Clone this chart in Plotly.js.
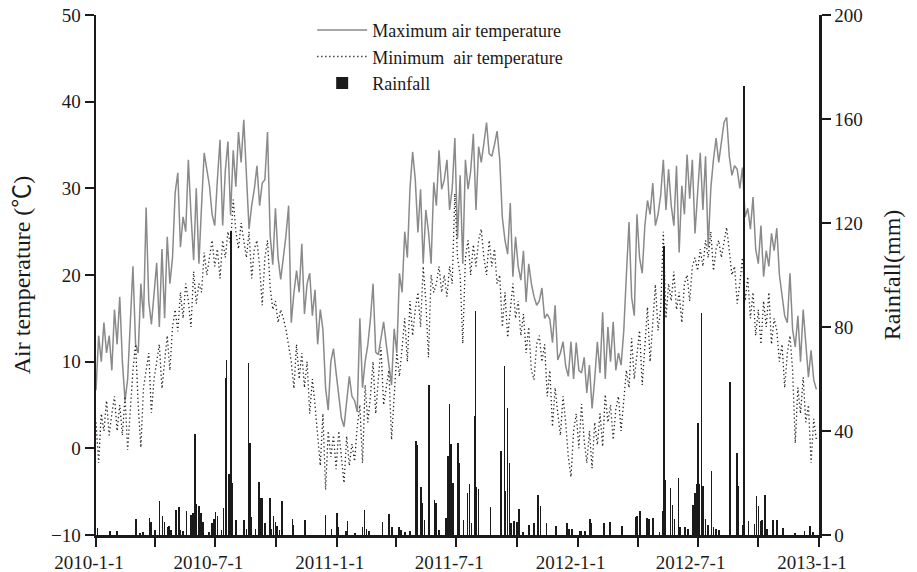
<!DOCTYPE html>
<html>
<head>
<meta charset="utf-8">
<script src="https://cdn.plot.ly/plotly-3.0.1.min.js"></script>
<style>
html,body{margin:0;padding:0;background:#fff;}
#chart{width:917px;height:572px;}
</style>
</head>
<body>
<div id="chart"></div>
<script>
// ---- data ----
const startDate = '2010-01-01';
const stepDays = 4; // one temperature sample every 4 days

const maxTemp = [
  6.7, 13, 10, 14.5, 11, 13, 9, 16, 12, 17.5,
  10, 5.5, 8, 14, 21, 12, 11, 19, 15, 27.8,
  17, 14.3, 18, 21.4, 14, 23, 15, 24.4, 19, 22,
  29.5, 31.8, 23.2, 26.7, 25, 33.3, 27, 21.7, 30, 21.3,
  28, 34.1, 32.2, 30.3, 27, 25.7, 31, 35.6, 25.7, 32,
  35.4, 26.9, 34.4, 30.2, 36.5, 33, 37.9, 32.2, 25.3, 28,
  29.9, 32.6, 28, 30.6, 31, 36.5, 24.6, 21.2, 27.7, 22,
  19.5, 22, 24.6, 28, 14.5, 17.9, 20.5, 18, 23.6, 15.5,
  19, 20.2, 15.3, 18.3, 12, 16, 13.7, 7, 4.4, 10,
  11.5, 8.7, 6, 3.5, 2.5, 5.5, 8.3, 6, 5.5, 4.2,
  15, 7, 10, 11.9, 14.9, 19, 11.1, 10.8, 13, 14.6,
  12, 9.6, 7.3, 13.8, 11, 20.2, 18, 25, 22, 30,
  34.2, 31, 24.9, 29.9, 21.3, 27.5, 25, 21.3, 30.7, 28,
  34.4, 29.9, 31, 33.3, 27.5, 30, 35.8, 24.2, 31.5, 21.3,
  33.3, 29.9, 32, 36.3, 27.5, 34.8, 33, 35.2, 37.6, 34,
  33.7, 35, 36.6, 33.3, 26.6, 24, 22.4, 28.3, 19.8, 24.4,
  21, 19.4, 22.8, 16.9, 21.3, 19, 17.5, 16.5, 17, 18.5,
  15, 15.5, 14.9, 12.2, 16.5, 10.2, 11, 12.3, 9.5, 8.3,
  12.3, 8, 12.2, 9, 8.7, 10.5, 6.4, 9.6, 4.6, 8,
  12.3, 8.7, 15.7, 8, 14, 10, 14.6, 9, 11, 9.6,
  13.5, 20, 26.1, 17.4, 15.3, 27, 22, 20.2, 25.7, 28.6,
  27, 30.6, 25.7, 27, 29.2, 33.3, 27.5, 32.2, 28, 25.7,
  32.6, 22.6, 30.3, 27, 33.9, 28.8, 33.3, 24.8, 30, 34.1,
  27.5, 33.7, 23.2, 30, 33.3, 35.8, 33, 35.2, 37.6, 38.2,
  33.7, 31.5, 32.6, 32.2, 30, 32.4, 26.7, 27.7, 25.3, 29,
  23, 21.3, 25.7, 19.8, 22.8, 21, 24.8, 22.8, 25.4, 20,
  17.4, 15.3, 14.5, 20.2, 13.7, 11.7, 15.3, 10, 16, 11.5,
  8.2, 11.3, 7.9, 6.8
];

const minTemp = [
  3, -1.7, 4, 2, 5.5, 1.5, 4, 6, 2, 5,
  1.5, 6, -0.2, 4, 9, 12, 5, 0.1, 7, 9,
  11, 4.1, 8, 10, 12, 6.9, 10, 13, 9, 14,
  16, 13.5, 18, 15, 19, 17, 14, 20.4, 16.7, 19,
  18, 22.6, 20, 22, 24, 21, 23, 19.6, 24, 22,
  25, 23.5, 28.7, 25, 23, 26, 24, 22, 25, 19.6,
  23, 24, 21, 16.5, 22, 24, 18.6, 16, 17, 14.5,
  16, 15, 13.7, 12, 10, 6.9, 12, 8, 11, 7,
  10, 4, 8, 5, 1, -2, 4, -4.8, 2, -1,
  1.5, -2.4, 2, -1, -4, 1.4, -2, 0.5, -1.5, 2.5,
  5, -1.7, 7.3, 3, 6, 10, 4, 8, 11.7, 5,
  7, 9, 1, 6, 11, 8.3, 12, 15, 10, 17,
  13, 16, 18, 14, 21, 17, 10.5, 20, 18, 19,
  21, 18, 20, 17.5, 21, 19, 29.4, 22, 20, 12.1,
  22, 24, 20, 23.5, 21, 24, 25.3, 22, 20, 24,
  21, 23, 19, 20, 14, 18, 12.8, 16, 19, 15,
  17, 13, 15.5, 11, 14, 9, 7.9, 12, 13, 10,
  12, 6, 9, 2.5, 7, 4, 1.5, 6, 3, -1,
  -3.3, 2, 4, 0, 5.1, 1, -1.7, 2, -2.3, 3,
  0.4, 4, 0.2, 6.2, 3, 5, 1, 4.5, 6, 2,
  5.1, 9, 7, 12.7, 8, 11, 13.6, 7.3, 12, 16.3,
  10, 14, 18.9, 13.6, 16, 25, 15, 19, 17, 20.4,
  16, 18, 14.5, 19, 20, 17, 21, 22, 20.5, 23,
  21, 24, 22, 25, 20.5, 23, 24, 22, 24, 25.5,
  22.8, 20, 21, 16.7, 19, 22, 17, 19.8, 15, 18,
  13, 16, 12, 17, 14, 18, 12, 15, 13.6, 10,
  12, 7, 11, 13, 9, 0.6, 7, 4, 8.2, 3,
  5, -1.7, 3.4, 1
];

// rainfall events: day number counted from 2010-01-01, and amount (mm)
const rainDay = [2,21,32,61,67,71,81,83,89,96,101,104,109,111,114,121,126,128,132,137,144,147,150,152,156,159,162,171,176,179,181,184,190,193,196,198,202,205,207,212,224,228,231,233,236,242,247,250,252,256,264,266,269,272,274,278,282,298,299,317,348,357,365,367,379,381,393,404,407,410,414,434,444,449,459,462,468,476,485,487,493,495,498,505,513,515,520,531,534,536,538,541,549,551,557,563,566,569,574,575,577,580,598,614,619,621,624,627,629,634,638,641,647,656,664,670,674,683,697,714,717,722,733,735,741,749,751,770,779,797,818,820,825,835,838,844,854,859,861,863,871,874,877,883,885,893,897,905,908,910,913,915,918,920,924,928,933,936,940,944,961,972,974,980,982,989,998,1001,1004,1007,1010,1014,1017,1026,1032,1041,1060,1074,1082,1087];
const rainMm = [2.7,1.7,1.5,6,0.8,1,6.7,5,2,13.2,7.3,5,3,3.5,2,9.6,10.8,2,1.5,9.2,7.7,8.6,38.7,11.9,11.2,8.3,5,1.2,4.6,6,8.8,7.3,2,10.5,60.4,67.3,23.5,117,20,5.8,5.8,2.5,66,35.5,7,2.5,20.5,14.2,14.2,4.7,14.1,2.5,7.4,4.9,3.5,2,13,6.3,4,5.9,7.7,2.5,8.3,3,1.5,5.5,0.8,3,9.6,2.5,1.5,4.9,8.1,3,3,2,1,1.5,36.3,34.6,18.6,12.5,5.8,57.7,13.5,12.5,2,6.4,30.5,50.3,34.9,20.1,35.3,27.6,5.7,16,19.5,4.5,45.9,86,18.6,17.6,10.6,32.4,65,17,49,27.6,4.7,5.5,5,10,1.2,3.7,4.7,15.4,11,4.5,3.6,4.5,2.5,2.5,1.5,1.5,1.5,6.1,4.7,4.5,5,3.6,7,7.4,9.1,6.7,6.3,6.5,1.2,9.2,111,21,18,11.5,6,22,3,3,2.5,11.4,16,19.8,43,19.5,85.5,19,6,3.8,24.6,3,2.5,2,59,31.4,18.8,4,172.7,5.5,4.3,15,11.3,5.5,5.8,15.4,2.5,5.6,5.6,2.8,0.8,1.4,3.6,1.2];

const tickDates = ['2010-01-01','2010-04-01','2010-07-01','2010-10-01','2011-01-01','2011-04-01','2011-07-01','2011-10-01','2012-01-01','2012-04-01','2012-07-01','2012-10-01','2013-01-01'];
const tickLabels = ['2010-1-1','','2010-7-1','','2011-1-1','','2011-7-1','','2012-1-1','','2012-7-1','','2013-1-1'];
const tempTicks = [-10, 0, 10, 20, 30, 40, 50];
const rainTicks = [0, 40, 80, 120, 160, 200];

// ---- helpers ----
const DAY = 86400000;
const t0 = Date.parse(startDate + 'T00:00:00Z');
function dayToDate(d) { return new Date(t0 + d * DAY).toISOString().slice(0, 10); }
const tempDates = maxTemp.map((_, i) => dayToDate(i * stepDays));
const rainDates = rainDay.map(dayToDate);

const FONT = 'Liberation Serif, Times New Roman, Noto Sans CJK SC, serif';
const INK = '#1a1a1a';

const traces = [
  {
    x: tempDates, y: maxTemp, type: 'scatter', mode: 'lines',
    name: 'Maximum air temperature',
    line: {color: '#8a8a8a', width: 1.5},
    yaxis: 'y'
  },
  {
    x: tempDates, y: minTemp, type: 'scatter', mode: 'lines',
    name: 'Minimum\u00A0 air temperature',
    line: {color: '#222', width: 1.3, dash: '1.3px,2.7px'},
    yaxis: 'y'
  },
  {
    x: rainDates, y: rainMm, type: 'bar',
    name: 'Rainfall',
    marker: {color: INK, line: {width: 0}},
    width: 2.4 * DAY,
    yaxis: 'y2'
  }
];

const layout = {
  width: 917, height: 572,
  margin: {l: 96, r: 98, t: 15, b: 37},
  paper_bgcolor: '#fff', plot_bgcolor: 'rgba(0,0,0,0)',
  font: {family: FONT, size: 19, color: INK},
  showlegend: true,
  legend: {
    x: 0.299, y: 1.006, xanchor: 'left', yanchor: 'top',
    bgcolor: 'rgba(0,0,0,0)', borderwidth: 0,
    font: {family: FONT, size: 18, color: INK},
    tracegroupgap: 0, itemwidth: 50
  },
  bargap: 0,
  xaxis: {
    type: 'date',
    range: ['2010-01-01', '2013-01-01'],
    tickmode: 'array', tickvals: tickDates, ticktext: tickLabels,
    ticks: 'outside', ticklen: 9, tickwidth: 2, tickcolor: INK,
    showline: true, linewidth: 2.5, linecolor: INK,
    showgrid: false, zeroline: false,
    tickfont: {family: FONT, size: 19, color: INK},
    ticklabelshift: -7
  },
  yaxis: {
    range: [-10, 50],
    tickmode: 'array', tickvals: tempTicks,
    ticks: 'outside', ticklen: 9, tickwidth: 2, tickcolor: INK,
    showline: true, linewidth: 2.5, linecolor: INK,
    showgrid: false, zeroline: false,
    tickfont: {family: FONT, size: 19, color: INK},
    title: {text: 'Air temperature (\u2103)', font: {family: FONT, size: 24, color: INK}, standoff: 14}
  },
  yaxis2: {
    range: [0, 200], overlaying: 'y', side: 'right',
    tickmode: 'array', tickvals: rainTicks,
    ticks: 'outside', ticklen: 9, tickwidth: 2, tickcolor: INK,
    showline: true, linewidth: 2.5, linecolor: INK,
    showgrid: false, zeroline: false,
    tickfont: {family: FONT, size: 19, color: INK},
    title: {text: 'Rainfall(mm)', font: {family: FONT, size: 24, color: INK}, standoff: 22}
  }
};

Plotly.newPlot('chart', traces, layout, {displayModeBar: false, staticPlot: true});
</script>
</body>
</html>
